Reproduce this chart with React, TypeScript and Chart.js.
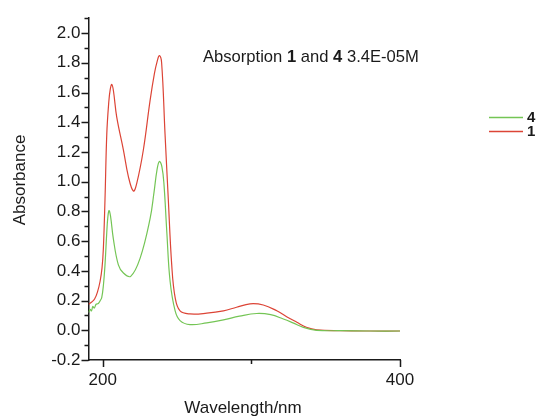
import React, { useEffect, useRef } from "react";
import { Chart, registerables } from "chart.js";

Chart.register(...registerables);

// ---- data ----
const wavelength1 = [190.4, 192.5, 194.5, 196.5, 198.2, 199.5, 200.4, 201.5, 202.7, 204.0, 205.0, 206.1, 207.2, 209.4, 213.9, 217.2, 220.6, 222.9, 227.3, 231.8, 234.8, 236.6, 238.1, 239.6, 241.9, 244.1, 246.4, 248.7, 252.0, 258.7, 270, 281.2, 290, 299.1, 308, 317.1, 324, 330.6, 337, 344.0, 360, 380, 400];
const absorbance1 = [0.175, 0.19, 0.21, 0.26, 0.33, 0.42, 0.55, 0.88, 1.32, 1.53, 1.62, 1.654, 1.61, 1.434, 1.213, 1.036, 0.937, 0.99, 1.213, 1.544, 1.73, 1.81, 1.848, 1.80, 1.32, 0.88, 0.44, 0.22, 0.13, 0.11, 0.115, 0.131, 0.155, 0.178, 0.17, 0.131, 0.09, 0.054, 0.02, 0.003, -0.003, -0.005, -0.005];

const wavelength4 = [190.4, 191.5, 192.4, 193.3, 194.3, 195.5, 197.0, 198.3, 199.3, 200.4, 201.5, 202.7, 203.4, 204.2, 205.2, 207.1, 210.5, 213.9, 218.8, 225.1, 231.8, 234.5, 236.5, 238.1, 239.8, 241.2, 243.1, 245.3, 248.7, 252.0, 258.7, 270, 281.2, 292, 303.6, 313, 321.5, 328, 335.0, 344.0, 360, 380, 400];
const absorbance4 = [0.12, 0.14, 0.13, 0.16, 0.15, 0.175, 0.18, 0.2, 0.22, 0.3, 0.44, 0.66, 0.76, 0.805, 0.77, 0.617, 0.44, 0.385, 0.363, 0.484, 0.749, 0.93, 1.08, 1.136, 1.10, 0.98, 0.66, 0.33, 0.13, 0.065, 0.038, 0.05, 0.07, 0.095, 0.113, 0.105, 0.076, 0.05, 0.02, 0.0, -0.003, -0.005, -0.005];

const seriesNames = ["4", "1"];
const xTickLabels = [200, 400];
const xMinorTicks = [300];
const yTickLabels = [-0.2, 0.0, 0.2, 0.4, 0.6, 0.8, 1.0, 1.2, 1.4, 1.6, 1.8, 2.0];
const yMinorTicks = [-0.1, 0.1, 0.3, 0.5, 0.7, 0.9, 1.1, 1.3, 1.5, 1.7, 1.9, 2.1];
const titleParts = [
  { text: "Absorption ", bold: false },
  { text: "1", bold: true },
  { text: " and ", bold: false },
  { text: "4", bold: true },
  { text: " 3.4E-05M", bold: false },
];

const RED = "#dc4436";
const GREEN = "#74c555";
const AXIS = "#1a1a1a";
const FONT = "'Liberation Sans', Arial, sans-serif";

const decorPlugin = {
  id: "decor",
  afterDraw(chart: any) {
    const { ctx, scales } = chart;
    const x = scales.x;
    const y = scales.y;
    const left = chart.chartArea.left;
    const bottom = chart.chartArea.bottom;
    ctx.save();
    ctx.strokeStyle = AXIS;
    ctx.lineWidth = 1.5;
    ctx.beginPath();
    for (const v of yTickLabels) {
      const py = Math.round(y.getPixelForValue(v)) + 0.5;
      ctx.moveTo(left - 7, py);
      ctx.lineTo(left, py);
    }
    for (const v of yMinorTicks) {
      const py = Math.round(y.getPixelForValue(v)) + 0.5;
      ctx.moveTo(left - 4, py);
      ctx.lineTo(left, py);
    }
    for (const v of xTickLabels) {
      const px = Math.round(x.getPixelForValue(v)) + 0.5;
      ctx.moveTo(px, bottom);
      ctx.lineTo(px, bottom + 7);
    }
    for (const v of xMinorTicks) {
      const px = Math.round(x.getPixelForValue(v)) + 0.5;
      ctx.moveTo(px, bottom);
      ctx.lineTo(px, bottom + 4);
    }
    ctx.stroke();

    ctx.fillStyle = "#1a1a1a";
    // title
    let tx = 203;
    const ty = 62;
    ctx.textBaseline = "alphabetic";
    ctx.textAlign = "left";
    for (const p of titleParts) {
      ctx.font = `${p.bold ? "bold " : ""}16.6px ${FONT}`;
      ctx.fillText(p.text, tx, ty);
      tx += ctx.measureText(p.text).width;
    }
    // axis titles
    ctx.font = `17px ${FONT}`;
    ctx.textAlign = "center";
    ctx.fillText("Wavelength/nm", 243, 413);
    ctx.save();
    ctx.translate(25, 180);
    ctx.rotate(-Math.PI / 2);
    ctx.fillText("Absorbance", 0, 0);
    ctx.restore();

    // legend
    const ds = chart.data.datasets;
    const legendY = [117, 131];
    ctx.textAlign = "left";
    ctx.textBaseline = "middle";
    ctx.font = `bold 15px ${FONT}`;
    ds.forEach((d: any, i: number) => {
      ctx.strokeStyle = d.borderColor;
      ctx.lineWidth = 1.5;
      ctx.beginPath();
      ctx.moveTo(489, legendY[i] + 0.5);
      ctx.lineTo(523, legendY[i] + 0.5);
      ctx.stroke();
      ctx.fillStyle = "#1a1a1a";
      ctx.fillText(d.label, 527, legendY[i] + 1);
    });
    ctx.restore();
  },
};

export default function App() {
  const ref = useRef<HTMLCanvasElement | null>(null);
  useEffect(() => {
    document.body.style.margin = "0";
    const canvas = ref.current;
    if (!canvas) return;
    const chart = new Chart(canvas, {
      type: "line",
      data: {
        datasets: [
          {
            label: seriesNames[0],
            data: wavelength4.map((w, i) => ({ x: w, y: absorbance4[i] })),
            borderColor: GREEN,
            borderWidth: 1.2,
            pointRadius: 0,
            tension: 0.4,
            fill: false,
          },
          {
            label: seriesNames[1],
            data: wavelength1.map((w, i) => ({ x: w, y: absorbance1[i] })),
            borderColor: RED,
            borderWidth: 1.2,
            pointRadius: 0,
            tension: 0.4,
            fill: false,
          },
        ],
      },
      options: {
        animation: false,
        responsive: false,
        devicePixelRatio: 1,
        layout: { padding: { left: 0, right: 138, top: 13, bottom: 0 } },
        plugins: { legend: { display: false }, tooltip: { enabled: false }, title: { display: false } },
        scales: {
          x: {
            type: "linear",
            min: 190.4,
            max: 400,
            grid: { display: false, drawTicks: false },
            border: { display: true, color: AXIS, width: 1.5 },
            afterBuildTicks: (s: any) => {
              s.ticks = xTickLabels.map((v) => ({ value: v }));
            },
            afterFit: (s: any) => {
              s.height = 57;
            },
            ticks: {
              padding: 10,
              maxRotation: 0,
              color: "#1a1a1a",
              font: { family: FONT, size: 17 },
              callback: (v: any) => String(v),
            },
          },
          y: {
            type: "linear",
            min: -0.2,
            max: 2.1,
            grid: { display: false, drawTicks: false },
            border: { display: true, color: AXIS, width: 1.5 },
            afterBuildTicks: (s: any) => {
              s.ticks = yTickLabels.map((v) => ({ value: v }));
            },
            afterFit: (s: any) => {
              s.width = 88.5;
            },
            ticks: {
              padding: 8,
              color: "#1a1a1a",
              font: { family: FONT, size: 17 },
              callback: (v: any) => Number(v).toFixed(1),
            },
          },
        },
      },
      plugins: [decorPlugin],
    });
    return () => chart.destroy();
  }, []);
  return (
    <canvas
      ref={ref}
      width={538}
      height={417}
      style={{ display: "block", width: 538, height: 417 }}
    />
  );
}
